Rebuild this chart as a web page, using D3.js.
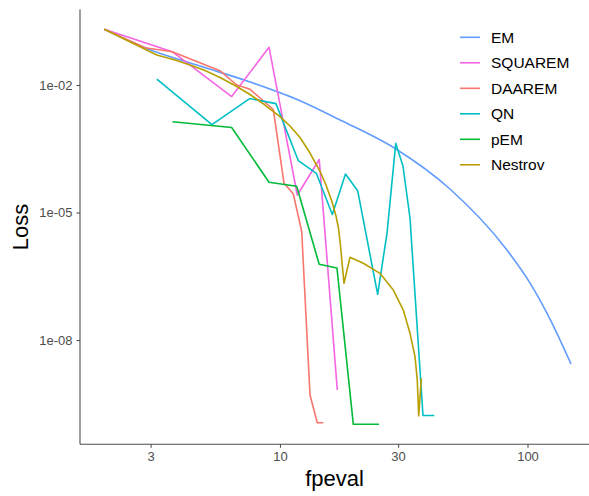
<!DOCTYPE html>
<html>
<head>
<meta charset="utf-8">
<script src="https://cdn.jsdelivr.net/npm/d3@7"></script>
<style>
  html, body { margin: 0; padding: 0; background: #fff; }
  svg { display: block; }
  text { font-family: "Liberation Sans", Arial, Helvetica, sans-serif; }
</style>
</head>
<body>
<svg id="chart" width="589" height="496"></svg>
<script>
// Loss per function evaluation for each acceleration method
const methods = ["EM", "SQUAREM", "DAAREM", "QN", "pEM", "Nestrov"];
const colors  = ["#619CFF", "#F564E3", "#F8766D", "#00BFC4", "#00BA38", "#B79F00"];

const emFpeval = [1.95, 2.93, 4.75, 7.57, 12.05, 17.5, 29.4, 48.6, 82.6, 102.4, 123.3, 150];
const emLoss   = [0.2045, 0.0703, 0.028, 0.01177, 0.00427, 0.0015, 3.12e-4, 3.57e-5, 1.31e-6, 2.19e-7, 3.12e-8, 2.72e-9];

const squaremFpeval = [1.95, 3.67, 6.38, 9.03, 11.75, 14.41, 17.04];
const squaremLoss   = [0.2045, 0.0607, 0.00536, 0.0771, 2.58e-5, 1.767e-4, 6.66e-10];

const daaremFpeval = [1.95, 2.85, 3.67, 5.72, 6.69, 7.57, 9.40, 10.38, 11.32, 12.24, 13.22, 14.15, 14.96];
const daaremLoss   = [0.2045, 0.0754, 0.0607, 0.02171, 0.01, 0.00792, 0.00265, 4.94e-5, 2.72e-5, 3.57e-6, 5.08e-10, 1.133e-10, 1.133e-10];

const qnFpeval = [3.18, 5.31, 7.54, 9.63, 11.86, 14.02, 16.27, 18.39, 20.60, 24.81, 27.06, 29.35, 31.40, 33.52, 37.82, 42.02];
const qnLoss   = [0.01369, 0.00117, 0.00479, 0.00365, 1.655e-4, 8.36e-5, 8.97e-6, 8.05e-5, 3.26e-5, 1.19e-7, 3.24e-6, 4.25e-4, 1.242e-4, 7.42e-6, 1.674e-10, 1.674e-10];

const pemFpeval = [3.68, 6.38, 9.03, 11.68, 14.40, 16.99, 19.78, 25.12];
const pemLoss   = [0.001369, 0.001, 5.16e-5, 4.13e-5, 6.04e-7, 4.94e-7, 1.039e-10, 1.039e-10];

const nestrovFpeval = [1.95, 3.18, 3.765, 4.329, 4.977, 5.722, 6.579, 7.566, 8.697, 10, 10.975, 12.05, 13.22,
  14.50, 15.34, 16.23, 16.84, 17.23, 17.55, 17.80, 18.14, 19.18, 21.71, 25.35, 28.70, 31.49, 33.52, 35.12,
  35.86, 36.35, 37.23];
const nestrovLoss   = [0.2045, 0.0508, 0.0387, 0.02955, 0.02194, 0.01501, 0.00973, 0.00598, 0.00338, 0.001795,
  0.001085, 5.82e-4, 2.51e-4, 9.47e-5, 4.44e-5, 1.767e-5, 8.27e-6, 4.32e-6, 1.72e-6, 6.84e-7, 2.16e-7, 8.83e-7,
  6.38e-7, 3.71e-7, 1.50e-7, 5.08e-8, 1.437e-8, 4.05e-9, 1.145e-9, 1.628e-10, 1.256e-9];

const xTicks = [3, 10, 30, 100];
const yTicks = [1e-2, 1e-5, 1e-8];
const yTickLabels = ["1e-02", "1e-05", "1e-08"];

const xDomain = [1.556, 177.2];
const yDomain = [3.52e-11, 0.5976];

const seriesX = [emFpeval, squaremFpeval, daaremFpeval, qnFpeval, pemFpeval, nestrovFpeval];
const seriesY = [emLoss, squaremLoss, daaremLoss, qnLoss, pemLoss, nestrovLoss];
const series = methods.map((name, i) => ({
  name, color: colors[i],
  points: seriesX[i].map((x, j) => ({ x, y: seriesY[i][j] }))
}));

const panel = { left: 80, right: 589, top: 9.5, bottom: 444.3 };
const svg = d3.select("#chart");

const x = d3.scaleLog().domain(xDomain).range([panel.left, panel.right]);
const y = d3.scaleLog().domain(yDomain).range([panel.bottom, panel.top]);

// data lines, drawn in legend order
const line = d3.line().x(d => x(d.x)).y(d => y(d.y));
const smooth = d3.line().x(d => x(d.x)).y(d => y(d.y)).curve(d3.curveMonotoneX);
svg.append("g").selectAll("path").data(series).join("path")
  .attr("fill", "none")
  .attr("stroke", d => d.color)
  .attr("stroke-width", 1.6)
  .attr("stroke-linejoin", "round")
  .attr("d", d => (d.name === "EM" ? smooth : line)(d.points));

// axes
const axisColor = "#4d4d4d";
const xAxis = svg.append("g").attr("transform", `translate(0,${panel.bottom})`)
  .call(d3.axisBottom(x).tickValues(xTicks).tickFormat(d3.format("d")).tickSize(3.5).tickPadding(4));
const yAxis = svg.append("g").attr("transform", `translate(${panel.left},0)`)
  .call(d3.axisLeft(y).tickValues(yTicks).tickFormat((d, i) => yTickLabels[i]).tickSize(3.5).tickPadding(4));
[xAxis, yAxis].forEach(g => {
  g.select(".domain").remove();
  g.selectAll(".tick line").attr("stroke", axisColor).attr("stroke-width", 1.1);
  g.selectAll(".tick text").attr("fill", axisColor).style("font-size", "13px")
    .style("font-family", "'Liberation Sans', Arial, sans-serif");
});
svg.append("line").attr("x1", panel.left).attr("x2", panel.right)
  .attr("y1", panel.bottom).attr("y2", panel.bottom)
  .attr("stroke", axisColor).attr("stroke-width", 1.1);
svg.append("line").attr("x1", panel.left).attr("x2", panel.left)
  .attr("y1", panel.top).attr("y2", panel.bottom)
  .attr("stroke", axisColor).attr("stroke-width", 1.1);

// axis titles
svg.append("text").attr("x", (panel.left + panel.right) / 2).attr("y", 486)
  .attr("text-anchor", "middle").style("font-size", "22px").attr("fill", "#000")
  .text("fpeval");
svg.append("text").attr("transform", `translate(28,${(panel.top + panel.bottom) / 2}) rotate(-90)`)
  .attr("text-anchor", "middle").style("font-size", "22px").attr("fill", "#000")
  .text("Loss");

// legend
const legend = svg.append("g").attr("transform", "translate(460,37.3)");
const rows = legend.selectAll("g").data(series).join("g")
  .attr("transform", (d, i) => `translate(0,${i * 25.5})`);
rows.append("line").attr("x1", 0).attr("x2", 20).attr("y1", 0).attr("y2", 0)
  .attr("stroke", d => d.color).attr("stroke-width", 1.6);
rows.append("text").attr("x", 31).attr("y", 0).attr("dy", "0.36em")
  .style("font-size", "15.5px").attr("fill", "#000").text(d => d.name);
</script>
</body>
</html>
